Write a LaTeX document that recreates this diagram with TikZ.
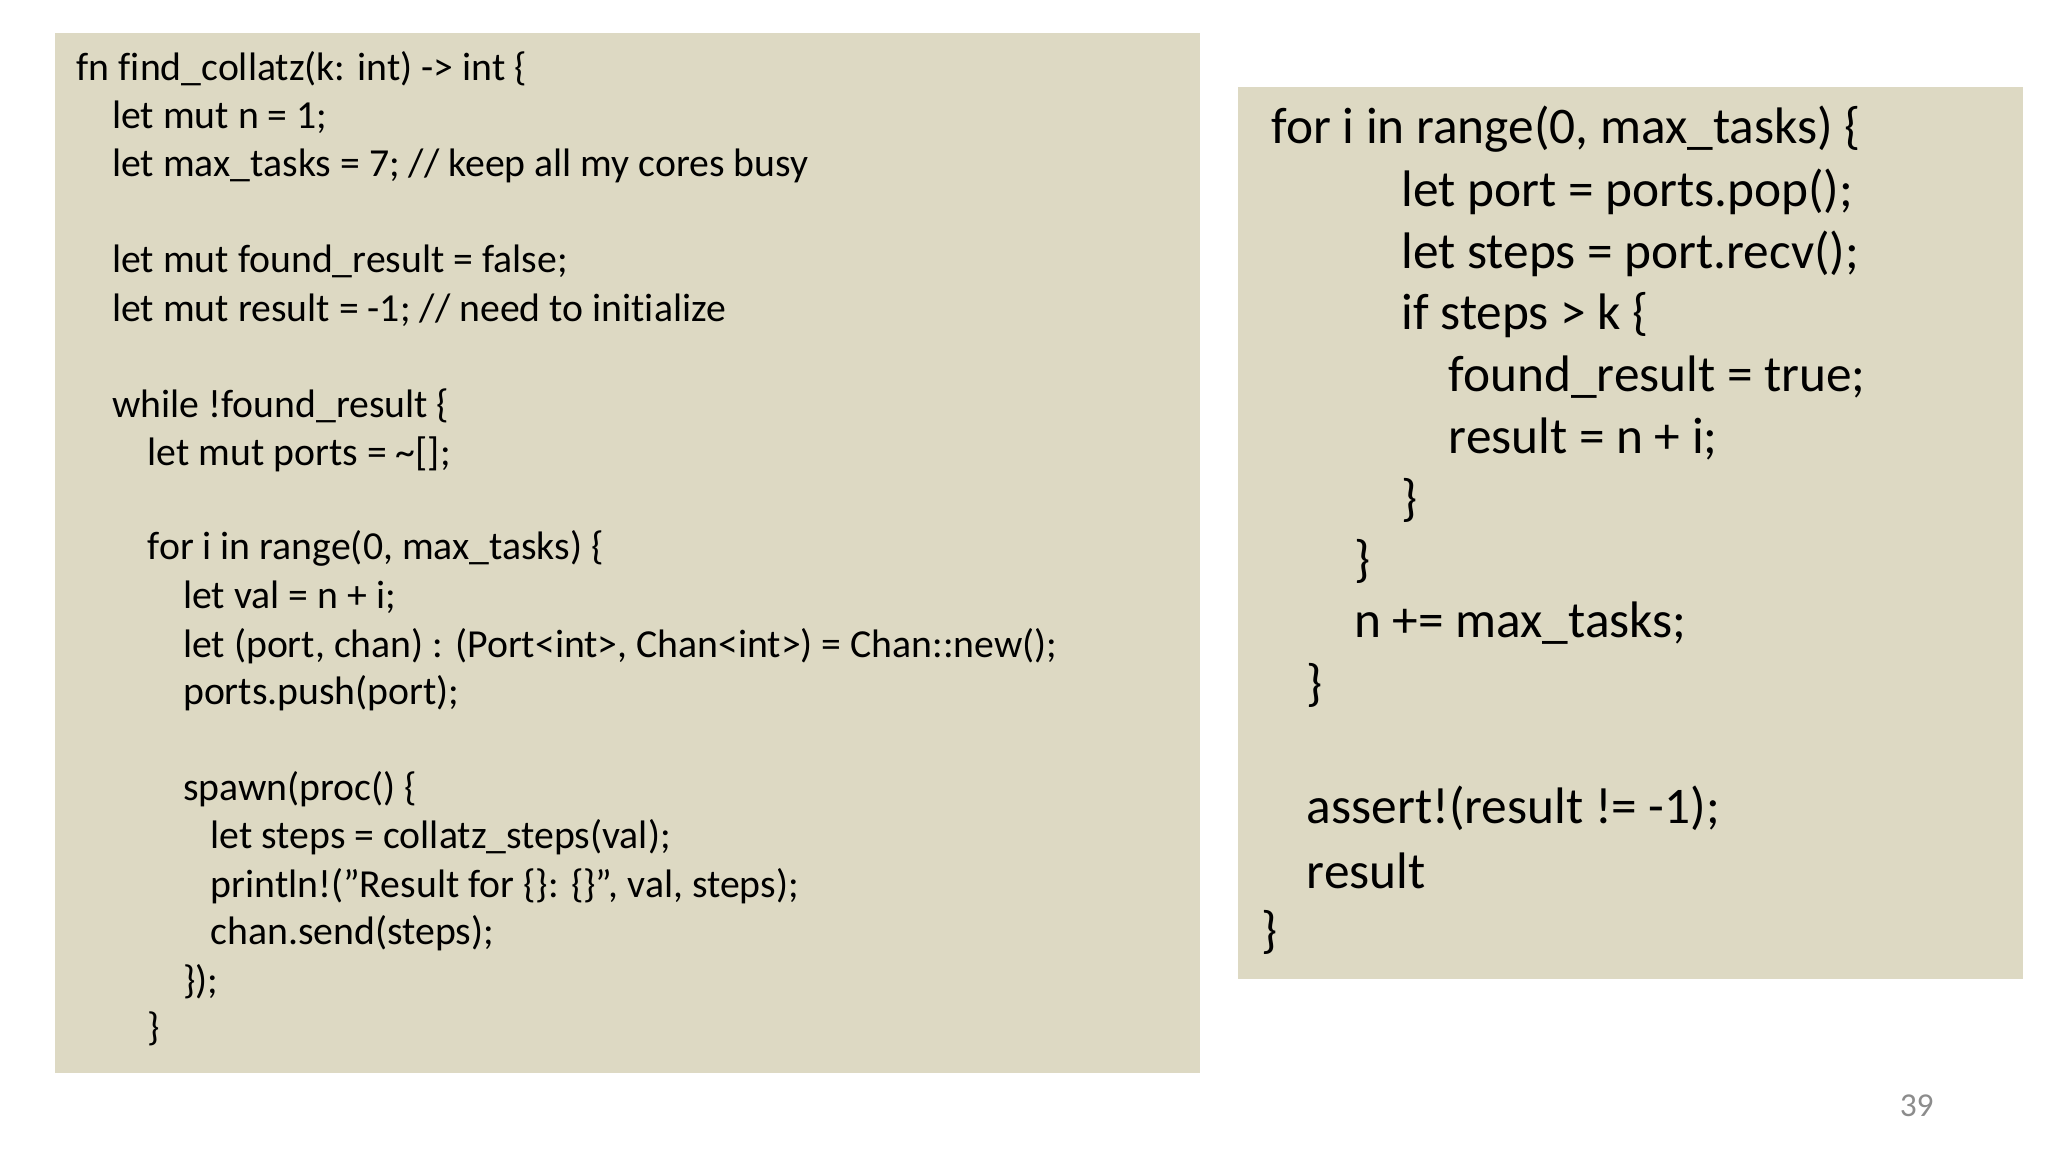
\documentclass[tikz,border=0pt]{standalone}
\usepackage{fontspec}
\setmainfont[Ligatures={NoCommon}]{Carlito}
\definecolor{boxbg}{HTML}{DDD9C3}
\definecolor{pgnum}{HTML}{8C8C8C}
\begin{document}
\begin{tikzpicture}[x=0.013128cm,y=-0.013128cm,
  lft/.style={anchor=west,inner sep=0pt,font=\fontsize{11.3}{13}\selectfont},
  rgt/.style={anchor=west,inner sep=0pt,font=\fontsize{14.6}{17}\selectfont}]
\useasboundingbox (0,0) rectangle (1560,877.5);
\fill[boxbg] (42,25) rectangle (914,817);
\fill[boxbg] (943,66) rectangle (1541,746);
\node[lft] (l1) at (58,52) {fn find\_collatz(k: int) -> int \{};
\node[lft] (l2) at (85,89) {let mut n = 1;};
\node[lft] (l3) at (85,126) {let max\_tasks = 7; // keep all my cores busy};
\node[lft] (l4) at (85,199) {let mut found\_result = false;};
\node[lft] (l5) at (85,236) {let mut result = -1; // need to initialize};
\node[lft] (l6) at (85,309) {while !found\_result \{};
\node[lft] (l7) at (112,346) {let mut ports = \textasciitilde[];};
\node[lft] (l8) at (112,418) {for i in range(0, max\_tasks) \{};
\node[lft] (l9) at (139,455) {let val = n + i;};
\node[lft] (l10) at (139,492) {let (port, chan) : (Port<int>, Chan<int>) = Chan::new();};
\node[lft] (l11) at (139,528) {ports.push(port);};
\node[lft] (l12) at (139,601) {spawn(proc() \{};
\node[lft] (l13) at (160,638) {let steps = collatz\_steps(val);};
\node[lft] (l14) at (160,675) {println!(\char34 Result for \{\}: \{\}\char34, val, steps);};
\node[lft] (l15) at (160,711) {chan.send(steps);};
\node[lft] (l16) at (139,748) {\});};
\node[lft] (l17) at (112,784) {\}};
\node[rgt] (r1) at (968,98) {for i in range(0, max\_tasks) \{};
\node[rgt] (r2) at (1067,146) {let port = ports.pop();};
\node[rgt] (r3) at (1067,193) {let steps = port.recv();};
\node[rgt] (r4) at (1067,240) {if steps > k \{};
\node[rgt] (r5) at (1103,287) {found\_result = true;};
\node[rgt] (r6) at (1103,334) {result = n + i;};
\node[rgt] (r7) at (1067,381) {\}};
\node[rgt] (r8) at (1031,428) {\}};
\node[rgt] (r9) at (1031,475) {n += max\_tasks;};
\node[rgt] (r10) at (995,522) {\}};
\node[rgt] (r11) at (995,616) {assert!(result != -1);};
\node[rgt] (r12) at (995,663) {result};
\node[rgt] (r13) at (960,710) {\}};
\node[anchor=center,inner sep=0pt,text=pgnum,font=\fontsize{9.5}{11}\selectfont] (pg) at (1460,842) {39};
\end{tikzpicture}
\end{document}
